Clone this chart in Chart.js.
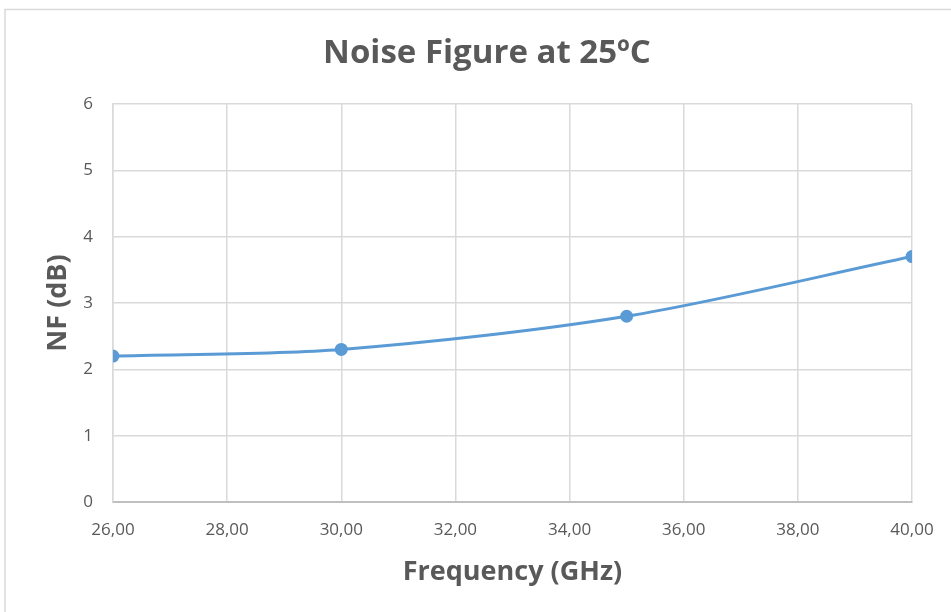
<!DOCTYPE html>
<html>
<head>
<meta charset="utf-8">
<script src="https://cdn.jsdelivr.net/npm/chart.js@4.4.1/dist/chart.umd.min.js"></script>
<style>
  html, body { margin: 0; padding: 0; background: #fff; }
  #wrap { width: 951px; height: 612px; position: relative; }
</style>
</head>
<body>
<div id="wrap"><canvas id="nfChart" width="951" height="612"></canvas></div>
<script>
const freqGHz = [26, 30, 35, 40];
const nfDb = [2.2, 2.3, 2.8, 3.7];
const xTicks = [26, 28, 30, 32, 34, 36, 38, 40];
const yTicks = [0, 1, 2, 3, 4, 5, 6];

const textColor = '#595959';
const gridColor = '#d9d9d9';
const fontFamily = "'Open Sans', 'Noto Sans', sans-serif";

// thin frame like the excel chart area
const frame = {
    id: 'frame',
    beforeDraw(chart) {
        const ctx = chart.ctx;
        ctx.save();
        ctx.fillStyle = '#fff';
        ctx.fillRect(0, 0, chart.width, chart.height);
        ctx.strokeStyle = '#d9d9d9';
        ctx.lineWidth = 1.5;
        ctx.beginPath();
        ctx.moveTo(5, chart.height);
        ctx.lineTo(5, 9.5);
        ctx.lineTo(chart.width, 9.5);
        ctx.stroke();
        ctx.restore();
    }
};

const ctx = document.getElementById('nfChart').getContext('2d');
new Chart(ctx, {
    type: 'line',
    data: {
        datasets: [{
            label: 'NF',
            data: freqGHz.map((f, i) => ({x: f, y: nfDb[i]})),
            borderColor: '#5b9bd5',
            backgroundColor: '#5b9bd5',
            borderWidth: 3,
            pointRadius: 5,
            pointHoverRadius: 5,
            tension: 0.3,
            fill: false
        }]
    },
    options: {
        responsive: false,
        animation: false,
        layout: { padding: { left: 23, right: 0, top: 0, bottom: 0 } },
        plugins: {
            legend: { display: false },
            tooltip: { enabled: false },
            title: {
                display: true,
                text: 'Noise Figure at 25ºC',
                color: textColor,
                font: { family: fontFamily, size: 33, weight: 'bold', lineHeight: 1.2 },
                padding: { top: 34, bottom: 30.4 }
            }
        },
        scales: {
            x: {
                type: 'linear',
                min: 26,
                max: 40,
                afterBuildTicks(scale) {
                    scale.ticks = xTicks.map(v => ({value: v}));
                },
                afterFit(scale) {
                    scale.height = 110;
                    scale.paddingRight = 39;
                },
                grid: { color: gridColor, lineWidth: 1.5, drawTicks: false },
                border: { color: '#bfbfbf', width: 2 },
                ticks: {
                    color: textColor,
                    padding: 18,
                    maxRotation: 0,
                    font: { family: fontFamily, size: 17 },
                    callback: v => v.toFixed(2).replace('.', ',')
                },
                title: {
                    display: true,
                    text: 'Frequency (GHz)',
                    color: textColor,
                    font: { family: fontFamily, size: 27, weight: 'bold', lineHeight: 1.2 },
                    padding: { top: 0, bottom: 23.8 }
                }
            },
            y: {
                min: 0,
                max: 6,
                afterBuildTicks(scale) {
                    scale.ticks = yTicks.map(v => ({value: v}));
                },
                afterFit(scale) { scale.width = 90; },
                grid: { color: gridColor, lineWidth: 1.5, drawTicks: false },
                border: { color: gridColor, width: 1.5 },
                ticks: {
                    color: textColor,
                    padding: 20,
                    font: { family: fontFamily, size: 17 }
                },
                title: {
                    display: true,
                    text: 'NF (dB)',
                    color: textColor,
                    font: { family: fontFamily, size: 27, weight: 'bold', lineHeight: 1.2 },
                    padding: { top: 19, bottom: 0 }
                }
            }
        }
    },
    plugins: [frame]
});
</script>
</body>
</html>
